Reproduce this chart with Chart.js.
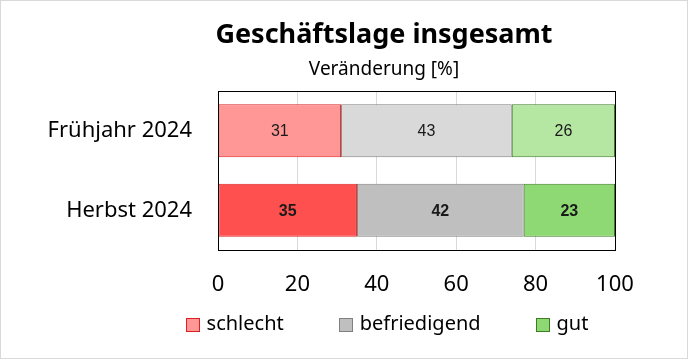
<!DOCTYPE html>
<html>
<head>
<meta charset="utf-8">
<script src="https://cdn.jsdelivr.net/npm/chart.js@4"></script>
<style>
  html, body { margin: 0; padding: 0; background: #fff; }
  .frame { width: 688px; height: 359px; box-sizing: border-box; border: 1px solid #d9d9d9; }
  canvas { display: block; }
</style>
</head>
<body>
<div class="frame"><canvas id="chart" width="686" height="357"></canvas></div>
<script>
// data
const categories = ['Frühjahr 2024', 'Herbst 2024'];
const seriesNames = ['schlecht', 'befriedigend', 'gut'];
const schlecht = [31, 35];
const befriedigend = [43, 42];
const gut = [26, 23];
const xTicks = [0, 20, 40, 60, 80, 100];

const titleText = 'Geschäftslage insgesamt';
const subtitleText = 'Veränderung [%]';

const FONT = '"Noto Sans", sans-serif';

// light colours for Frühjahr, strong ones for Herbst
const fills = [
  ['#ff9797', '#ff5050'],
  ['#d9d9d9', '#bfbfbf'],
  ['#b5e6a2', '#8ed973']
];
const strokes = ['#e02020', '#808080', '#3b7d23'];
const legendFill = ['#ff9797', '#bfbfbf', '#8ed973'];

const valueLabels = {
  id: 'valueLabels',
  afterDatasetsDraw(chart) {
    const ctx = chart.ctx;
    ctx.save();
    ctx.textAlign = 'center';
    ctx.textBaseline = 'middle';
    ctx.fillStyle = '#1a1a1a';
    chart.data.datasets.forEach((ds, i) => {
      chart.getDatasetMeta(i).data.forEach((bar, j) => {
        const c = bar.getCenterPoint();
        ctx.font = (j === 1 ? 'bold ' : '') + '16px "Liberation Sans", Arial, sans-serif';
        ctx.fillText(ds.data[j], c.x, c.y + 1);
      });
    });
    ctx.restore();
  }
};

const plotBorder = {
  id: 'plotBorder',
  afterDatasetsDraw(chart) {
    const {ctx, chartArea: a} = chart;
    ctx.save();
    ctx.strokeStyle = '#000';
    ctx.lineWidth = 1;
    ctx.strokeRect(Math.round(a.left) + 0.5, Math.round(a.top) + 0.5,
      Math.round(a.right - a.left), Math.round(a.bottom - a.top));
    ctx.restore();
  }
};

// title, subtitle and legend are drawn by hand so they can sit off-centre like the original
const headerAndLegend = {
  id: 'headerAndLegend',
  afterDraw(chart) {
    const ctx = chart.ctx;
    const cx = 383;
    ctx.save();
    ctx.fillStyle = '#000';
    ctx.textAlign = 'center';
    ctx.textBaseline = 'middle';
    ctx.font = 'bold 27px ' + FONT;
    ctx.fillText(titleText, cx, 34);
    ctx.font = '19px ' + FONT;
    ctx.fillText(subtitleText, cx, 69);

    // legend row
    const box = 13, gap = 8, spacing = 55, y = 323;
    ctx.font = '20px ' + FONT;
    const widths = chart.data.datasets.map(ds => box + gap + ctx.measureText(ds.label).width);
    const total = widths.reduce((a, b) => a + b, 0) + spacing * (widths.length - 1);
    let x = 386 - total / 2;
    ctx.textAlign = 'left';
    chart.data.datasets.forEach((ds, i) => {
      ctx.fillStyle = legendFill[i];
      ctx.strokeStyle = strokes[i];
      ctx.lineWidth = 1;
      const bx = Math.round(x) + 0.5, by = Math.round(y - box / 2) + 0.5;
      ctx.fillRect(bx, by, box, box);
      ctx.strokeRect(bx, by, box, box);
      ctx.fillStyle = '#000';
      ctx.fillText(ds.label, x + box + gap, y);
      x += widths[i] + spacing;
    });
    ctx.restore();
  }
};

const datasets = [schlecht, befriedigend, gut].map((values, i) => ({
  label: seriesNames[i],
  data: values,
  backgroundColor: fills[i],
  borderColor: strokes[i],
  borderWidth: 1,
  borderSkipped: false,
  categoryPercentage: 1,
  barPercentage: 0.667
}));

new Chart(document.getElementById('chart'), {
  type: 'bar',
  data: { labels: categories, datasets: datasets },
  options: {
    indexAxis: 'y',
    responsive: false,
    animation: false,
    layout: { padding: { left: 10, right: 72, top: 90, bottom: 59 } },
    scales: {
      x: {
        stacked: true,
        min: 0,
        max: 100,
        afterBuildTicks: s => { s.ticks = xTicks.map(v => ({ value: v })); },
        afterFit: s => { s.height = 49; },
        grid: { color: '#d9d9d9', drawTicks: false },
        border: { display: false },
        ticks: { padding: 22, color: '#000', font: { family: FONT, size: 22 } }
      },
      y: {
        stacked: true,
        afterFit: s => { s.width = 207; },
        grid: { display: false, drawTicks: false },
        border: { display: false },
        ticks: { padding: 26, color: '#000', font: { family: FONT, size: 22 } }
      }
    },
    plugins: {
      legend: { display: false },
      tooltip: { enabled: false }
    }
  },
  plugins: [valueLabels, plotBorder, headerAndLegend]
});
</script>
</body>
</html>
